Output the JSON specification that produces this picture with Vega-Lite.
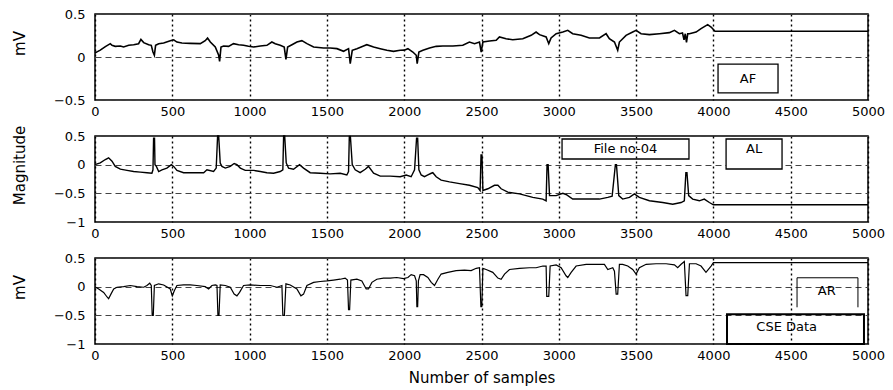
{
  "$schema": "https://vega.github.io/schema/vega-lite/v6.json",
  "background": "white",
  "padding": {"left": 11, "top": 7, "right": 5, "bottom": 5},
  "bounds": "flush",
  "spacing": 36,
  "config": {
    "font": "DejaVu Sans",
    "view": {"stroke": "#000", "strokeWidth": 1.5},
    "axis": {
      "labelFont": "DejaVu Sans", "labelFontSize": 13, "labelColor": "#000",
      "titleFont": "DejaVu Sans", "titleFontSize": 15, "titleFontWeight": "normal", "titleColor": "#000",
      "ticks": false, "domain": false, "gridColor": "#000", "gridOpacity": 1,
      "labelFlush": false, "labelOverlap": false
    },
    "axisX": {"gridDash": [2, 3], "gridWidth": 1.4, "labelPadding": 5},
    "axisY": {"gridDash": [6, 4], "gridWidth": 1, "gridColor": "#444", "labelPadding": 10,
              "titleX": -76, "titleY": 29, "titleBaseline": "middle", "titleAngle": -90}
  },
  "datasets": {
    "af": [
      {"n":0,"v":0.047},{"n":13,"v":0.06},{"n":34,"v":0.08},{"n":67,"v":0.12},{"n":99,"v":0.155},{"n":110,"v":0.136},
      {"n":131,"v":0.124},{"n":164,"v":0.128},{"n":185,"v":0.116},{"n":218,"v":0.136},{"n":250,"v":0.143},{"n":282,"v":0.155},
      {"n":297,"v":0.205},{"n":315,"v":0.167},{"n":347,"v":0.143},{"n":364,"v":0.136},{"n":375,"v":0.058},{"n":384,"v":0.02},
      {"n":392,"v":0.136},{"n":412,"v":0.155},{"n":444,"v":0.163},{"n":487,"v":0.19},{"n":509,"v":0.2},{"n":530,"v":0.174},
      {"n":562,"v":0.163},{"n":616,"v":0.159},{"n":681,"v":0.155},{"n":713,"v":0.19},{"n":728,"v":0.22},{"n":746,"v":0.174},
      {"n":778,"v":0.116},{"n":800,"v":0.02},{"n":806,"v":-0.05},{"n":815,"v":0.116},{"n":832,"v":0.128},{"n":864,"v":0.124},
      {"n":896,"v":0.155},{"n":929,"v":0.143},{"n":961,"v":0.136},{"n":993,"v":0.124},{"n":1026,"v":0.116},{"n":1069,"v":0.128},
      {"n":1112,"v":0.136},{"n":1144,"v":0.174},{"n":1166,"v":0.155},{"n":1198,"v":0.136},{"n":1224,"v":0.116},{"n":1235,"v":-0.027},
      {"n":1246,"v":0.116},{"n":1274,"v":0.143},{"n":1306,"v":0.174},{"n":1338,"v":0.19},{"n":1371,"v":0.155},{"n":1414,"v":0.116},
      {"n":1478,"v":0.105},{"n":1521,"v":0.105},{"n":1565,"v":0.097},{"n":1608,"v":0.066},{"n":1640,"v":0.097},{"n":1651,"v":-0.078},
      {"n":1664,"v":0.078},{"n":1694,"v":0.097},{"n":1737,"v":0.128},{"n":1758,"v":0.143},{"n":1802,"v":0.116},{"n":1845,"v":0.097},
      {"n":1888,"v":0.078},{"n":1931,"v":0.066},{"n":1974,"v":0.078},{"n":2000,"v":0.08},{"n":2024,"v":0.097},{"n":2056,"v":0.058},
      {"n":2078,"v":0.02},{"n":2084,"v":-0.078},{"n":2095,"v":0.058},{"n":2121,"v":0.078},{"n":2164,"v":0.105},{"n":2207,"v":0.124},
      {"n":2250,"v":0.128},{"n":2315,"v":0.128},{"n":2379,"v":0.136},{"n":2422,"v":0.174},{"n":2455,"v":0.155},{"n":2487,"v":0.174},
      {"n":2498,"v":0.058},{"n":2509,"v":0.174},{"n":2552,"v":0.186},{"n":2595,"v":0.194},{"n":2616,"v":0.233},{"n":2659,"v":0.213},
      {"n":2702,"v":0.2},{"n":2767,"v":0.213},{"n":2821,"v":0.252},{"n":2853,"v":0.29},{"n":2875,"v":0.26},{"n":2918,"v":0.233},
      {"n":2935,"v":0.155},{"n":2950,"v":0.221},{"n":2983,"v":0.271},{"n":3026,"v":0.29},{"n":3058,"v":0.31},{"n":3090,"v":0.271},
      {"n":3144,"v":0.252},{"n":3198,"v":0.221},{"n":3263,"v":0.221},{"n":3306,"v":0.271},{"n":3327,"v":0.213},{"n":3360,"v":0.174},
      {"n":3381,"v":0.078},{"n":3392,"v":0.174},{"n":3435,"v":0.252},{"n":3478,"v":0.29},{"n":3500,"v":0.31},{"n":3532,"v":0.271},
      {"n":3586,"v":0.26},{"n":3651,"v":0.271},{"n":3715,"v":0.283},{"n":3748,"v":0.31},{"n":3780,"v":0.271},{"n":3800,"v":0.28},
      {"n":3810,"v":0.2},{"n":3818,"v":0.27},{"n":3826,"v":0.17},{"n":3834,"v":0.27},{"n":3845,"v":0.271},{"n":3888,"v":0.29},
      {"n":3920,"v":0.33},{"n":3963,"v":0.376},{"n":3985,"v":0.349},{"n":4000,"v":0.32},{"n":4010,"v":0.3},{"n":5000,"v":0.3}
    ],
    "al": [
      {"n":0,"v":0.0},{"n":34,"v":0.03},{"n":67,"v":0.09},{"n":88,"v":0.12},{"n":110,"v":0.06},{"n":131,"v":-0.03},
      {"n":164,"v":-0.078},{"n":207,"v":-0.1},{"n":250,"v":-0.12},{"n":293,"v":-0.13},{"n":336,"v":-0.14},{"n":368,"v":-0.15},
      {"n":375,"v":-0.09},{"n":379,"v":0.46},{"n":385,"v":0.46},{"n":388,"v":0.0},{"n":397,"v":-0.03},{"n":412,"v":-0.12},
      {"n":433,"v":-0.09},{"n":465,"v":-0.06},{"n":494,"v":0.0},{"n":509,"v":-0.03},{"n":530,"v":-0.1},{"n":573,"v":-0.14},
      {"n":638,"v":-0.14},{"n":703,"v":-0.14},{"n":724,"v":-0.09},{"n":767,"v":-0.12},{"n":784,"v":-0.06},{"n":793,"v":0.5},
      {"n":800,"v":0.5},{"n":810,"v":0.03},{"n":821,"v":-0.03},{"n":843,"v":-0.06},{"n":875,"v":-0.03},{"n":900,"v":0.02},
      {"n":918,"v":0.0},{"n":940,"v":-0.06},{"n":972,"v":-0.1},{"n":1026,"v":-0.1},{"n":1069,"v":-0.12},{"n":1112,"v":-0.14},
      {"n":1155,"v":-0.15},{"n":1198,"v":-0.12},{"n":1215,"v":-0.09},{"n":1220,"v":0.5},{"n":1227,"v":0.5},{"n":1237,"v":0.03},
      {"n":1252,"v":-0.06},{"n":1284,"v":-0.08},{"n":1323,"v":0.0},{"n":1349,"v":-0.06},{"n":1392,"v":-0.14},{"n":1457,"v":-0.15},
      {"n":1521,"v":-0.16},{"n":1586,"v":-0.15},{"n":1629,"v":-0.18},{"n":1640,"v":-0.12},{"n":1645,"v":0.49},{"n":1652,"v":0.49},
      {"n":1664,"v":0.0},{"n":1683,"v":-0.09},{"n":1715,"v":-0.14},{"n":1748,"v":-0.08},{"n":1769,"v":-0.03},{"n":1802,"v":-0.15},
      {"n":1845,"v":-0.2},{"n":1909,"v":-0.2},{"n":1974,"v":-0.21},{"n":2013,"v":-0.18},{"n":2045,"v":-0.21},{"n":2067,"v":-0.09},
      {"n":2080,"v":0.46},{"n":2087,"v":0.46},{"n":2095,"v":-0.09},{"n":2110,"v":-0.18},{"n":2131,"v":-0.21},{"n":2153,"v":-0.18},
      {"n":2175,"v":-0.15},{"n":2185,"v":-0.14},{"n":2207,"v":-0.21},{"n":2239,"v":-0.27},{"n":2293,"v":-0.3},{"n":2358,"v":-0.33},
      {"n":2422,"v":-0.36},{"n":2476,"v":-0.4},{"n":2491,"v":-0.45},{"n":2497,"v":0.17},{"n":2503,"v":0.17},{"n":2509,"v":-0.45},
      {"n":2541,"v":-0.42},{"n":2584,"v":-0.36},{"n":2606,"v":-0.36},{"n":2627,"v":-0.42},{"n":2670,"v":-0.48},{"n":2746,"v":-0.51},
      {"n":2832,"v":-0.57},{"n":2896,"v":-0.6},{"n":2918,"v":-0.63},{"n":2924,"v":0.0},{"n":2931,"v":0.0},{"n":2940,"v":-0.54},
      {"n":2983,"v":-0.54},{"n":3026,"v":-0.5},{"n":3047,"v":-0.52},{"n":3090,"v":-0.6},{"n":3177,"v":-0.6},{"n":3263,"v":-0.6},
      {"n":3317,"v":-0.57},{"n":3345,"v":-0.55},{"n":3366,"v":0.0},{"n":3373,"v":0.0},{"n":3388,"v":-0.54},{"n":3413,"v":-0.6},
      {"n":3457,"v":-0.57},{"n":3489,"v":-0.51},{"n":3521,"v":-0.57},{"n":3586,"v":-0.63},{"n":3672,"v":-0.66},{"n":3737,"v":-0.69},
      {"n":3791,"v":-0.66},{"n":3812,"v":-0.63},{"n":3822,"v":-0.14},{"n":3829,"v":-0.14},{"n":3840,"v":-0.54},{"n":3866,"v":-0.6},
      {"n":3909,"v":-0.63},{"n":3941,"v":-0.6},{"n":3974,"v":-0.66},{"n":4000,"v":-0.7},{"n":5000,"v":-0.7}
    ],
    "ar": [
      {"n":0,"v":0.0},{"n":24,"v":-0.04},{"n":56,"v":-0.1},{"n":78,"v":-0.18},{"n":88,"v":-0.21},{"n":103,"v":-0.13},
      {"n":121,"v":-0.04},{"n":142,"v":-0.01},{"n":185,"v":0.0},{"n":228,"v":0.02},{"n":272,"v":0.0},{"n":315,"v":-0.01},
      {"n":336,"v":0.02},{"n":354,"v":0.06},{"n":364,"v":0.02},{"n":370,"v":-0.5},{"n":377,"v":-0.5},{"n":384,"v":0.02},
      {"n":412,"v":0.05},{"n":444,"v":0.03},{"n":487,"v":-0.04},{"n":500,"v":-0.16},{"n":513,"v":-0.07},{"n":530,"v":0.02},
      {"n":573,"v":0.03},{"n":616,"v":0.03},{"n":659,"v":0.02},{"n":713,"v":0.0},{"n":735,"v":-0.04},{"n":756,"v":0.02},
      {"n":778,"v":0.03},{"n":789,"v":0.02},{"n":795,"v":-0.5},{"n":802,"v":-0.5},{"n":810,"v":0.03},{"n":843,"v":0.02},
      {"n":875,"v":-0.01},{"n":900,"v":-0.13},{"n":918,"v":-0.16},{"n":935,"v":-0.1},{"n":961,"v":0.02},{"n":1004,"v":0.03},
      {"n":1069,"v":0.02},{"n":1134,"v":0.02},{"n":1177,"v":-0.01},{"n":1209,"v":0.02},{"n":1215,"v":-0.5},{"n":1225,"v":-0.5},
      {"n":1235,"v":0.05},{"n":1263,"v":0.03},{"n":1306,"v":-0.04},{"n":1332,"v":-0.16},{"n":1349,"v":-0.13},{"n":1371,"v":0.02},
      {"n":1414,"v":0.075},{"n":1457,"v":0.09},{"n":1500,"v":0.1},{"n":1543,"v":0.115},{"n":1586,"v":0.13},{"n":1618,"v":0.15},
      {"n":1633,"v":0.115},{"n":1640,"v":-0.4},{"n":1647,"v":-0.4},{"n":1655,"v":0.115},{"n":1694,"v":0.13},{"n":1726,"v":0.1},
      {"n":1754,"v":-0.04},{"n":1769,"v":-0.04},{"n":1791,"v":0.075},{"n":1823,"v":0.13},{"n":1866,"v":0.15},{"n":1909,"v":0.15},
      {"n":1952,"v":0.16},{"n":1996,"v":0.14},{"n":2024,"v":0.16},{"n":2045,"v":0.21},{"n":2067,"v":0.19},{"n":2078,"v":0.1},
      {"n":2082,"v":-0.35},{"n":2087,"v":-0.35},{"n":2092,"v":0.1},{"n":2103,"v":0.21},{"n":2125,"v":0.21},{"n":2153,"v":0.16},
      {"n":2175,"v":0.075},{"n":2196,"v":0.02},{"n":2218,"v":0.13},{"n":2239,"v":0.22},{"n":2282,"v":0.25},{"n":2336,"v":0.28},
      {"n":2390,"v":0.29},{"n":2433,"v":0.28},{"n":2466,"v":0.32},{"n":2487,"v":0.33},{"n":2496,"v":-0.35},{"n":2502,"v":-0.35},
      {"n":2509,"v":0.32},{"n":2530,"v":0.3},{"n":2573,"v":0.25},{"n":2606,"v":0.15},{"n":2627,"v":0.13},{"n":2649,"v":0.22},
      {"n":2681,"v":0.3},{"n":2746,"v":0.32},{"n":2810,"v":0.33},{"n":2853,"v":0.33},{"n":2897,"v":0.36},{"n":2918,"v":0.36},
      {"n":2922,"v":-0.17},{"n":2935,"v":-0.17},{"n":2944,"v":0.36},{"n":2983,"v":0.38},{"n":3015,"v":0.33},{"n":3047,"v":0.19},
      {"n":3058,"v":0.16},{"n":3080,"v":0.25},{"n":3112,"v":0.36},{"n":3177,"v":0.39},{"n":3241,"v":0.39},{"n":3295,"v":0.39},
      {"n":3317,"v":0.3},{"n":3349,"v":0.33},{"n":3360,"v":0.27},{"n":3371,"v":-0.13},{"n":3381,"v":-0.13},{"n":3392,"v":0.39},
      {"n":3413,"v":0.39},{"n":3446,"v":0.36},{"n":3478,"v":0.3},{"n":3500,"v":0.22},{"n":3521,"v":0.33},{"n":3565,"v":0.39},
      {"n":3629,"v":0.4},{"n":3694,"v":0.4},{"n":3748,"v":0.38},{"n":3769,"v":0.33},{"n":3791,"v":0.39},{"n":3812,"v":0.44},
      {"n":3823,"v":-0.155},{"n":3834,"v":-0.155},{"n":3845,"v":0.4},{"n":3888,"v":0.4},{"n":3920,"v":0.36},{"n":3952,"v":0.25},
      {"n":3985,"v":0.36},{"n":4000,"v":0.42},{"n":5000,"v":0.42}
    ],
    "boxes": [
      {"panel":"AF","label":"AF","n":4030,"n2":4418,"v":-0.416,"v2":-0.083},
      {"panel":"AL","label":"File no-04","n":3021,"n2":3842,"v":0.099,"v2":0.448},
      {"panel":"AL","label":"AL","n":4082,"n2":4444,"v":-0.076,"v2":0.448},
      {"panel":"AR","label":"CSE Data","n":4088,"n2":4974,"v":-1,"v2":-0.483}
    ],
    "labels": [
      {"panel":"AF","label":"AF","n":4224,"v":-0.25},
      {"panel":"AL","label":"File no-04","n":3431,"v":0.27},
      {"panel":"AL","label":"AL","n":4263,"v":0.27},
      {"panel":"AR","label":"CSE Data","n":4474,"v":-0.707},
      {"panel":"AR","label":"AR","n":4733,"v":-0.08}
    ],
    "bracket": [
      {"n":4541,"v":-0.36,"k":1},{"n":4541,"v":0.155,"k":2},{"n":4935,"v":0.155,"k":3},{"n":4935,"v":-0.36,"k":4}
    ]
  },
  "vconcat": [
    {
      "width": 773, "height": 86,
      "encoding": {
        "x": {"field": "n", "type": "quantitative", "scale": {"domain": [0, 5000], "nice": false},
              "axis": {"values": [0,500,1000,1500,2000,2500,3000,3500,4000,4500,5000], "format": "d", "title": null}},
        "y": {"field": "v", "type": "quantitative", "scale": {"domain": [-0.5, 0.5], "nice": false},
              "axis": {"values": [-0.5, 0, 0.5], "format": "~g", "title": "mV"}}
      },
      "layer": [
        {"data": {"name": "af"}, "mark": {"type": "line", "color": "#000", "strokeWidth": 1.6}},
        {
          "data": {"name": "boxes"},
          "transform": [{"filter": "datum.panel === 'AF'"}],
          "mark": {"type": "rect", "fill": "transparent", "stroke": "#000", "strokeWidth": 1.3},
          "encoding": {"x2": {"field": "n2"}, "y2": {"field": "v2"}}
        },
        {
          "data": {"name": "labels"},
          "transform": [{"filter": "datum.panel === 'AF'"}],
          "mark": {"type": "text", "fontSize": 13, "color": "#000"},
          "encoding": {"text": {"field": "label"}}
        }
      ]
    },
    {
      "width": 773, "height": 86,
      "encoding": {
        "x": {"field": "n", "type": "quantitative", "scale": {"domain": [0, 5000], "nice": false},
              "axis": {"values": [0,500,1000,1500,2000,2500,3000,3500,4000,4500,5000], "format": "d", "title": null}},
        "y": {"field": "v", "type": "quantitative", "scale": {"domain": [-1, 0.5], "nice": false},
              "axis": {"values": [-1, -0.5, 0, 0.5], "format": "~g", "title": "Magnitude"}}
      },
      "layer": [
        {"data": {"name": "al"}, "mark": {"type": "line", "color": "#000", "strokeWidth": 1.4}},
        {
          "data": {"name": "boxes"},
          "transform": [{"filter": "datum.panel === 'AL'"}],
          "mark": {"type": "rect", "stroke": "#000", "strokeWidth": 1.3},
          "encoding": {
            "x2": {"field": "n2"}, "y2": {"field": "v2"},
            "fill": {"condition": {"test": "datum.label === 'AL'", "value": "#fff"}, "value": "transparent"}
          }
        },
        {
          "data": {"name": "labels"},
          "transform": [{"filter": "datum.panel === 'AL'"}],
          "mark": {"type": "text", "fontSize": 13, "color": "#000"},
          "encoding": {"text": {"field": "label"}}
        }
      ]
    },
    {
      "width": 773, "height": 86,
      "encoding": {
        "x": {"field": "n", "type": "quantitative", "scale": {"domain": [0, 5000], "nice": false},
              "axis": {"values": [0,500,1000,1500,2000,2500,3000,3500,4000,4500,5000], "format": "d",
                       "title": "Number of samples", "titlePadding": 8}},
        "y": {"field": "v", "type": "quantitative", "scale": {"domain": [-1, 0.5], "nice": false},
              "axis": {"values": [-1, -0.5, 0, 0.5], "format": "~g", "title": "mV"}}
      },
      "layer": [
        {"data": {"name": "ar"}, "mark": {"type": "line", "color": "#000", "strokeWidth": 1.2}},
        {
          "data": {"name": "boxes"},
          "transform": [{"filter": "datum.panel === 'AR'"}],
          "mark": {"type": "rect", "fill": "transparent", "stroke": "#000", "strokeWidth": 2},
          "encoding": {"x2": {"field": "n2"}, "y2": {"field": "v2"}}
        },
        {
          "data": {"name": "bracket"},
          "mark": {"type": "line", "color": "#000", "strokeWidth": 1},
          "encoding": {"order": {"field": "k"}}
        },
        {
          "data": {"name": "labels"},
          "transform": [{"filter": "datum.panel === 'AR'"}],
          "mark": {"type": "text", "fontSize": 13, "color": "#000"},
          "encoding": {"text": {"field": "label"}}
        }
      ]
    }
  ]
}
